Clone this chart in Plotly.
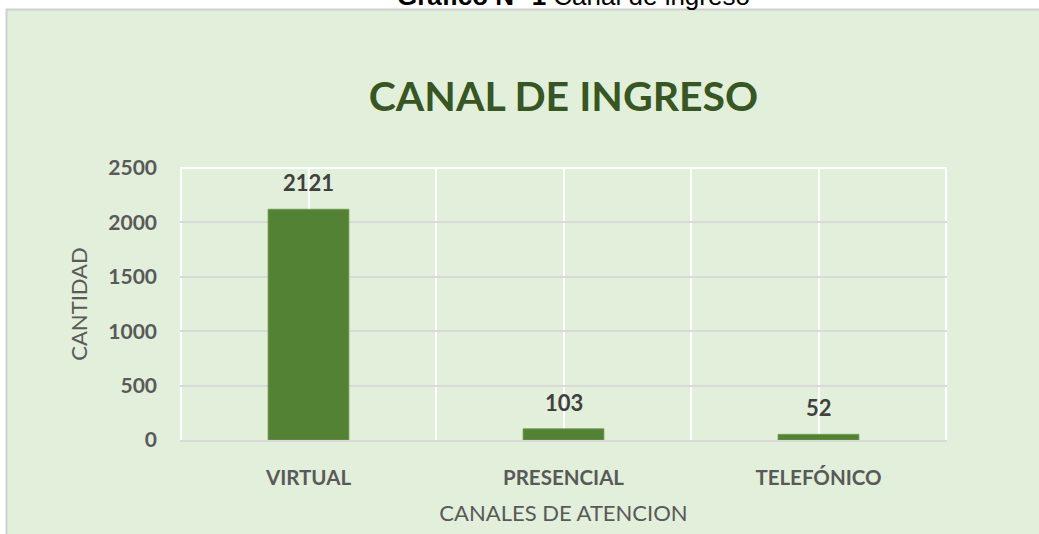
import plotly.graph_objects as go

categories = ["VIRTUAL", "PRESENCIAL", "TELEFÓNICO"]
values = [2121, 103, 52]
y_ticks = [0, 500, 1000, 1500, 2000, 2500]

W, H = 1039, 534
L, R, T, B = 180, 947, 168, 440

def px(x):
    return (x - L) / (R - L)

def py(y):
    return (B - y) / (B - T)

BG = "#E2EFDA"
GRID = "#D9D9D9"
TXT = "#595959"

fig = go.Figure()
fig.add_trace(go.Bar(
    x=categories, y=values,
    marker=dict(color="#548235", line=dict(color="#6E9A52", width=0.8)),
    hoverinfo="x+y",
))

for c, v in zip(categories, values):
    fig.add_annotation(x=c, y=v, xref="x", yref="y", text=f"<b>{v}</b>",
                       showarrow=False, yanchor="bottom", yshift=11,
                       font=dict(family="Lato", size=22, color="#404040"))

shapes = []
# green chart background with grey left/top border
shapes.append(dict(type="rect", xref="paper", yref="paper", layer="below",
                   x0=px(6.5), x1=px(1060), y0=py(560), y1=py(9.5),
                   fillcolor=BG, line=dict(color="#D0D0D0", width=2)))
# white vertical lines at category boundaries
for i in range(len(categories) + 1):
    shapes.append(dict(type="line", xref="x", yref="paper", layer="below",
                       x0=i - 0.5, x1=i - 0.5, y0=0, y1=1,
                       line=dict(color="white", width=2)))
# white top frame line
shapes.append(dict(type="line", xref="paper", yref="paper", layer="below",
                   x0=0, x1=1, y0=1, y1=1, line=dict(color="white", width=2)))

# caption partially cut at the top (as in the reference)
fig.add_annotation(xref="paper", yref="paper", x=px(395), y=py(13.5),
                   xanchor="left", yanchor="bottom", showarrow=False,
                   text="<b>Gráfico N° 1</b> Canal de ingreso",
                   font=dict(family="Liberation Sans", size=26, color="black"))

fig.update_layout(
    width=W, height=H,
    margin=dict(l=L, r=W - R, t=T, b=H - B, pad=0),
    paper_bgcolor="white", plot_bgcolor=BG,
    shapes=shapes,
    bargap=0.683,
    showlegend=False,
    title=dict(text="<b>CANAL DE INGRESO</b>", x=0.5, xref="paper",
               y=1 - 97 / H, yanchor="middle", xanchor="center",
               font=dict(family="Lato", size=41, color="#375623")),
    xaxis=dict(
        showgrid=True, gridcolor="white", gridwidth=1.5,
        showline=True, linecolor=GRID, linewidth=2,
        ticks="", ticklabelstandoff=18,
        tickfont=dict(family="Lato", size=20.5, color=TXT, weight="bold"),
        title=dict(text="CANALES DE ATENCION", standoff=18,
                   font=dict(family="Lato", size=22, color=TXT)),
        fixedrange=True,
    ),
    yaxis=dict(
        range=[0, 2500], tickvals=y_ticks,
        showgrid=True, gridcolor=GRID, gridwidth=1.5,
        zeroline=False, showline=False,
        ticks="", ticklabelstandoff=22,
        tickfont=dict(family="Lato", size=21, color=TXT, weight="bold"),
        title=dict(text="CANTIDAD", standoff=14,
                   font=dict(family="Lato", size=22, color=TXT)),
        fixedrange=True,
    ),
)

fig.write_html("out.html",
               config={"displayModeBar": False},
               post_script="document.body.style.margin='0';document.body.style.padding='0';document.body.style.overflow='hidden';")
